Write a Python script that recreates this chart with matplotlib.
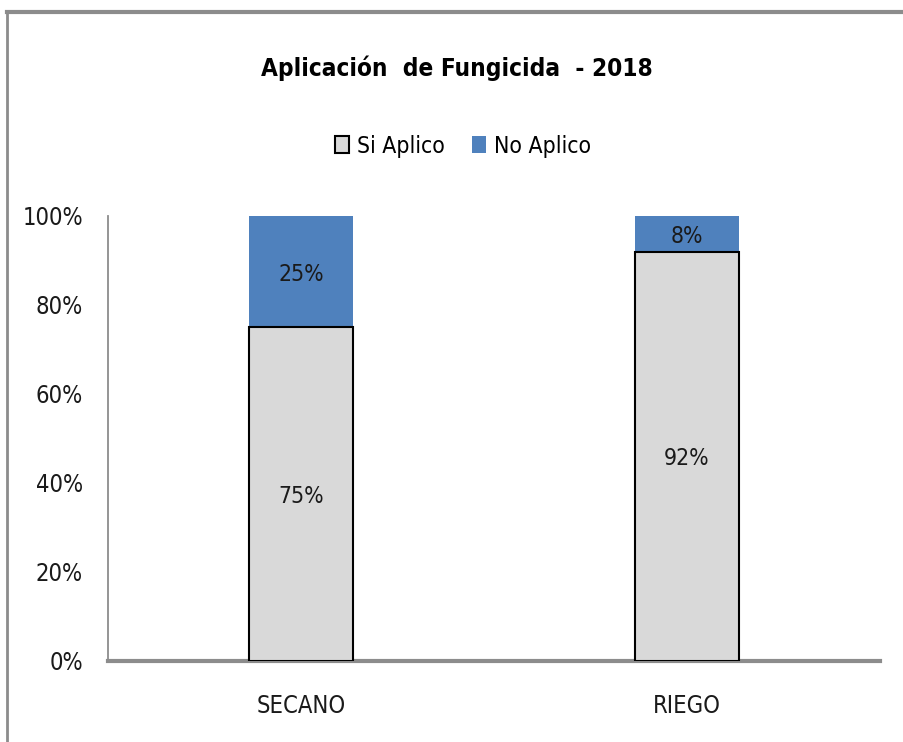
import matplotlib.pyplot as plt
from matplotlib.lines import Line2D
from matplotlib.ticker import PercentFormatter

categories = ["SECANO", "RIEGO"]
si_aplico = [75, 92]
no_aplico = [25, 8]

plt.rcParams["font.family"] = ["DejaVu Sans"]
plt.rcParams["font.stretch"] = "condensed"

fig = plt.figure(figsize=(9.04, 7.42), dpi=100)
ax = fig.add_axes([0.1195, 0.1092, 0.854, 0.5997])

x = range(len(categories))
width = 0.27
bars_si = ax.bar(x, si_aplico, width, color="#d9d9d9", edgecolor="black",
                 linewidth=1.5, label="Si Aplico", zorder=3)
bars_no = ax.bar(x, no_aplico, width, bottom=si_aplico, color="#4f81bd",
                 edgecolor="none", label="No Aplico", zorder=2)

for rect, v in zip(bars_si, si_aplico):
    ax.text(rect.get_x() + rect.get_width() / 2, v / 2, f"{v}%",
            ha="center", va="center_baseline", fontsize=16.5, color="#1a1a1a", zorder=4)
for rect, b, v in zip(bars_no, si_aplico, no_aplico):
    ax.text(rect.get_x() + rect.get_width() / 2, b + v / 2, f"{v}%",
            ha="center", va="center_baseline", fontsize=16.5, color="#1a1a1a", zorder=4)

ax.set_xlim(-0.5, 1.5)
ax.set_ylim(0, 100)
ax.set_yticks(range(0, 101, 20))
ax.yaxis.set_major_formatter(PercentFormatter(decimals=0))
ax.set_xticks(list(x))
ax.set_xticklabels(categories)
ax.tick_params(axis="both", length=0, labelsize=17, colors="#1a1a1a")
ax.tick_params(axis="y", pad=18)
ax.tick_params(axis="x", pad=24)

for side in ["top", "right"]:
    ax.spines[side].set_visible(False)
ax.spines["left"].set_color("#8c8c8c")
ax.spines["left"].set_linewidth(1.3)
ax.spines["bottom"].set_color("#8c8c8c")
ax.spines["bottom"].set_linewidth(3)

fig.text(0.505, 0.908, "Aplicación  de Fungicida  - 2018", ha="center",
         va="center", fontsize=17.5, fontweight="bold")
fig.legend(handles=[bars_si, bars_no], loc="center", bbox_to_anchor=(0.512, 0.803),
           ncol=2, frameon=False, fontsize=16.5, handlelength=0.6, handleheight=0.8,
           handletextpad=0.35, columnspacing=1.2)

# outer chart frame (top and left edges)
fig.add_artist(Line2D([0.008, 1.0], [0.984, 0.984], color="#8c8c8c", lw=3))
fig.add_artist(Line2D([0.008, 0.008], [0.0, 0.984], color="#8c8c8c", lw=2))

fig.savefig("out.png", dpi=100)
